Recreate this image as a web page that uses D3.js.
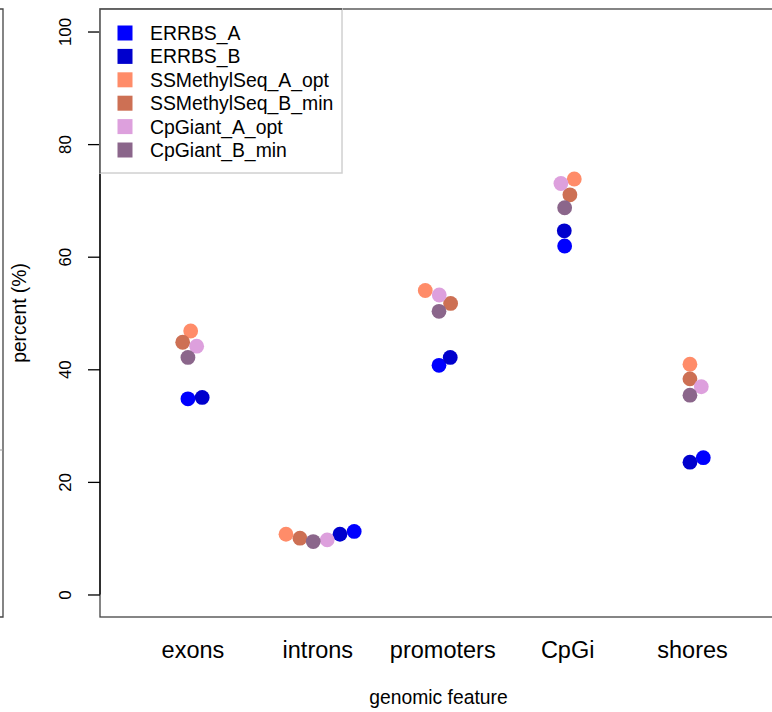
<!DOCTYPE html>
<html>
<head>
<meta charset="utf-8">
<script src="https://cdn.jsdelivr.net/npm/d3@7"></script>
<style>
  html, body { margin: 0; padding: 0; background: #fff; }
  svg { display: block; font-family: "Liberation Sans", Arial, Helvetica, sans-serif; }
</style>
</head>
<body>
<svg id="chart" width="772" height="712"></svg>
<script>
// Genomic feature categories (x axis)
const categories = ["exons", "introns", "promoters", "CpGi", "shores"];

// Methods / series, in legend order
const seriesNames = ["ERRBS_A", "ERRBS_B", "SSMethylSeq_A_opt", "SSMethylSeq_B_min", "CpGiant_A_opt", "CpGiant_B_min"];
const seriesColors = ["#0000FF", "#0000CD", "#FF8C69", "#CD7054", "#DDA0DD", "#8B668B"];

// Percent of each feature covered, per series (same order as categories)
const errbsA   = [34.75, 11.2, 40.7, 61.9, 24.3];
const errbsB   = [35.0, 10.7, 42.1, 64.6, 23.5];
const ssA      = [46.8, 10.7, 54.0, 73.8, 40.9];
const ssB      = [44.8, 10.0, 51.7, 71.0, 38.3];
const cpA      = [44.1, 9.7, 53.2, 73.0, 36.9];
const cpB      = [42.1, 9.4, 50.3, 68.7, 35.4];
const seriesValues = [errbsA, errbsB, ssA, ssB, cpA, cpB];

// Horizontal jitter of each point (in category units)
const jitterErrbsA = [-0.036, 0.295, -0.026, -0.020, 0.090];
const jitterErrbsB = [0.078, 0.181, 0.064, -0.023, -0.017];
const jitterSsA    = [-0.014, -0.251, -0.136, 0.057, -0.017];
const jitterSsB    = [-0.078, -0.139, 0.067, 0.022, -0.017];
const jitterCpA    = [0.034, 0.079, -0.024, -0.050, 0.074];
const jitterCpB    = [-0.036, -0.033, -0.026, -0.020, -0.017];
const seriesJitter = [jitterErrbsA, jitterErrbsB, jitterSsA, jitterSsB, jitterCpA, jitterCpB];

const yTicks = [0, 20, 40, 60, 80, 100];

const svg = d3.select("#chart");

// Plot region
const plotLeft = 100, plotRight = 777, plotTop = 9, plotBottom = 617;

const x = d3.scaleLinear().domain([0.26, 5.68]).range([plotLeft, plotRight]);
const y = d3.scaleLinear().domain([-4, 104]).range([plotBottom, plotTop]);

// Fragment of the neighbouring panel on the far left
svg.append("path")
  .attr("d", `M0,${plotTop}H3V${plotBottom}H0`)
  .attr("fill", "none").attr("stroke", "#444").attr("stroke-width", 1.3);
svg.append("line")
  .attr("x1", 0).attr("x2", 3).attr("y1", 450).attr("y2", 450)
  .attr("stroke", "#999").attr("stroke-width", 1);

// Plot box
svg.append("rect")
  .attr("x", plotLeft).attr("y", plotTop)
  .attr("width", plotRight - plotLeft).attr("height", plotBottom - plotTop)
  .attr("fill", "none").attr("stroke", "#444").attr("stroke-width", 1.3);

// Y axis
const yAxis = d3.axisLeft(y).tickValues(yTicks).tickSize(12).tickPadding(0).tickFormat(d3.format("d"));
const yg = svg.append("g").attr("transform", `translate(${plotLeft},0)`).call(yAxis);
yg.select(".domain").attr("d", `M0,${y(0)}V${y(100)}`).attr("stroke", "#000").attr("stroke-width", 1.3);
yg.selectAll(".tick line").attr("stroke", "#000").attr("stroke-width", 1.3);
yg.selectAll(".tick text")
  .attr("x", 0).attr("dy", null)
  .attr("transform", "translate(-29,0) rotate(-90)")
  .attr("text-anchor", "middle")
  .attr("font-size", 16.8)
  .attr("font-family", "Liberation Sans, Arial, sans-serif")
  .attr("fill", "#000");

// X axis labels (no tick marks)
const xAxis = d3.axisBottom(x).tickValues(d3.range(1, categories.length + 1))
  .tickSize(0).tickPadding(0).tickFormat(i => categories[i - 1]);
const xg = svg.append("g").attr("transform", `translate(0,${plotBottom})`).call(xAxis);
xg.select(".domain").remove();
xg.selectAll(".tick text")
  .attr("y", 41).attr("dy", null)
  .attr("font-size", 23.5)
  .attr("font-family", "Liberation Sans, Arial, sans-serif")
  .attr("fill", "#000");

// Axis titles
svg.append("text")
  .attr("x", (plotLeft + plotRight) / 2).attr("y", 704)
  .attr("text-anchor", "middle").attr("font-size", 19.3)
  .text("genomic feature");
svg.append("text")
  .attr("transform", `translate(26,${(plotTop + plotBottom) / 2}) rotate(-90)`)
  .attr("text-anchor", "middle").attr("font-size", 19.3)
  .text("percent (%)");

// Points
const points = [];
seriesNames.forEach((name, s) => {
  categories.forEach((cat, c) => {
    points.push({ series: s, pos: c + 1 + seriesJitter[s][c], value: seriesValues[s][c] });
  });
});
svg.append("g").selectAll("circle")
  .data(points)
  .join("circle")
  .attr("cx", d => x(d.pos))
  .attr("cy", d => y(d.value))
  .attr("r", 7.4)
  .attr("fill", d => seriesColors[d.series]);

// Legend
const legend = svg.append("g");
legend.append("rect")
  .attr("x", plotLeft).attr("y", plotTop).attr("width", 242).attr("height", 164)
  .attr("fill", "#fff").attr("stroke", "#d0d0d0").attr("stroke-width", 1.5);
// redraw plot-box edges that the legend frame covers
legend.append("path")
  .attr("d", `M${plotLeft},${plotTop + 164}V${plotTop}H${plotLeft + 242}`)
  .attr("fill", "none").attr("stroke", "#444").attr("stroke-width", 1.3);
const rows = legend.selectAll("g.row").data(seriesNames).join("g")
  .attr("class", "row")
  .attr("transform", (d, i) => `translate(0,${33 + i * 23.4})`);
rows.append("rect")
  .attr("x", 117.5).attr("y", -7.5).attr("width", 15).attr("height", 15)
  .attr("fill", (d, i) => seriesColors[i]);
rows.append("text")
  .attr("x", 150).attr("y", 7)
  .attr("font-size", 19.4)
  .text(d => d);
</script>
</body>
</html>
